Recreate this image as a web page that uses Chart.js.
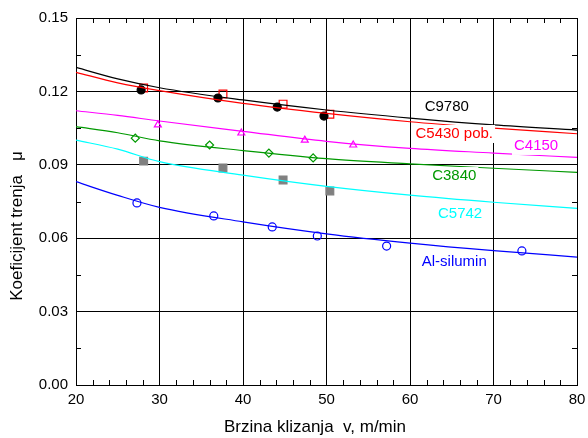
<!DOCTYPE html>
<html>
<head>
<meta charset="utf-8">
<script src="https://cdn.jsdelivr.net/npm/chart.js@4.4.1/dist/chart.umd.min.js"></script>
<style>
  body { margin: 0; background: #fff; }
  canvas { display: block; }
</style>
</head>
<body>
<canvas id="chart" width="588" height="438"></canvas>
<script>
// fitted curves at these speeds
const curveX = [20, 25, 30, 40, 50, 60, 70, 80];
const fitC9780 = [0.1298, 0.1251, 0.1215, 0.1165, 0.1124, 0.1091, 0.1063, 0.1042];
const fitC5430 = [0.1278, 0.1235, 0.1203, 0.1151, 0.1110, 0.1076, 0.1050, 0.1027];
const fitC4150 = [0.1121, 0.1102, 0.1079, 0.1037, 0.0996, 0.0967, 0.0948, 0.0930];
const fitC3840 = [0.1056, 0.1031, 0.0998, 0.0958, 0.0925, 0.0904, 0.0886, 0.0869];
const fitC5742 = [0.1001, 0.0964, 0.0913, 0.0858, 0.0812, 0.0776, 0.0747, 0.0722];
const fitAlSi  = [0.0831, 0.0775, 0.0726, 0.0667, 0.0618, 0.0580, 0.0549, 0.0523];

// measured points
const ptsC9780X = [27.8, 37.0, 44.1, 49.7];
const ptsC9780Y = [0.1206, 0.1173, 0.1136, 0.1099];
const ptsC5430X = [28.1, 37.6, 44.8, 50.4];
const ptsC5430Y = [0.1214, 0.1189, 0.1148, 0.1107];
const ptsC4150X = [29.8, 39.8, 47.4, 53.2];
const ptsC4150Y = [0.1063, 0.1030, 0.1001, 0.0981];
const ptsC3840X = [27.1, 36.0, 43.1, 48.4];
const ptsC3840Y = [0.1009, 0.0981, 0.0948, 0.0928];
const ptsC5742X = [28.1, 37.6, 44.8, 50.4];
const ptsC5742Y = [0.0915, 0.0887, 0.0838, 0.0793];
const ptsAlSiX = [27.3, 36.5, 43.5, 48.9, 57.2, 73.4];
const ptsAlSiY = [0.0744, 0.0691, 0.0646, 0.0609, 0.0568, 0.0548];

const seriesNames = ["C9780", "C5430 pob.", "C4150", "C3840", "C5742", "Al-silumin"];
const labelX = [64.4, 65.3, 75.1, 65.3, 66.0, 65.3];
const labelY = [0.1136, 0.1026, 0.0977, 0.0854, 0.0699, 0.0503];

const FONT = "'Liberation Sans', Arial, sans-serif";
const colors = ["#000000", "#ff0000", "#ff00ff", "#009900", "#00ffff", "#0000ff"];

function xy(xs, ys) {
    return xs.map((x, i) => ({ x: x, y: ys[i] }));
}

function curve(ys, color) {
    return {
        data: xy(curveX, ys),
        showLine: true,
        borderColor: color,
        borderWidth: 1.2,
        pointRadius: 0,
        cubicInterpolationMode: "monotone",
        fill: false,
    };
}

function marks(xs, ys, style, r, border, bg) {
    return {
        data: xy(xs, ys),
        showLine: false,
        pointStyle: style,
        pointRadius: r,
        pointBorderColor: border,
        pointBackgroundColor: bg,
        pointBorderWidth: 1.2,
    };
}

// minor ticks, titles and curve labels
const decor = {
    id: "decor",
    afterDatasetsDraw(chart) {
        const ctx = chart.ctx;
        const xs = chart.scales.x, ys = chart.scales.y;
        const a = chart.chartArea;
        ctx.save();
        ctx.strokeStyle = "#000";
        ctx.lineWidth = 1;
        ctx.beginPath();
        for (let v = 22; v < 80; v += 2) {
            if (v % 10 === 0) continue;
            const px = Math.round(xs.getPixelForValue(v)) + 0.5;
            ctx.moveTo(px, a.bottom); ctx.lineTo(px, a.bottom - 5);
            ctx.moveTo(px, a.top); ctx.lineTo(px, a.top + 5);
        }
        for (let k = 0; k < 5; k++) {
            const py = Math.round(ys.getPixelForValue(0.015 + k * 0.03)) + 0.5;
            ctx.moveTo(a.left, py); ctx.lineTo(a.left + 5, py);
            ctx.moveTo(a.right, py); ctx.lineTo(a.right - 5, py);
        }
        ctx.stroke();

        ctx.font = "15px " + FONT;
        ctx.textAlign = "center";
        ctx.textBaseline = "middle";
        seriesNames.forEach((name, i) => {
            const px = xs.getPixelForValue(labelX[i]);
            const py = ys.getPixelForValue(labelY[i]);
            const w = ctx.measureText(name).width;
            ctx.fillStyle = "#fff";
            ctx.fillRect(px - w / 2 - 2, py - 9, w + 4, 18);
            ctx.fillStyle = colors[i];
            ctx.fillText(name, px, py);
        });

        ctx.fillStyle = "#000";
        ctx.font = "17px " + FONT;
        ctx.fillText("Brzina klizanja  v, m/min", 315, 427);
        ctx.translate(17, 226);
        ctx.rotate(-Math.PI / 2);
        ctx.fillText("Koeficijent trenja   \u03bc", 0, 0);
        ctx.restore();
    },
};

new Chart(document.getElementById("chart"), {
    type: "scatter",
    data: {
        datasets: [
            curve(fitC9780, colors[0]),
            curve(fitC5430, colors[1]),
            curve(fitC4150, colors[2]),
            curve(fitC3840, colors[3]),
            curve(fitC5742, colors[4]),
            curve(fitAlSi, colors[5]),
            marks(ptsC9780X, ptsC9780Y, "circle", 4, "#000", "#000"),
            marks(ptsC5430X, ptsC5430Y, "rect", 5.5, "#ff0000", "rgba(0,0,0,0)"),
            marks(ptsC4150X, ptsC4150Y, "triangle", 4, "#ff00ff", "rgba(0,0,0,0)"),
            marks(ptsC3840X, ptsC3840Y, "rectRot", 4, "#009900", "rgba(0,0,0,0)"),
            marks(ptsC5742X, ptsC5742Y, "rect", 5.5, "#808080", "#808080"),
            marks(ptsAlSiX, ptsAlSiY, "circle", 4, "#0000ff", "rgba(0,0,0,0)"),
        ],
    },
    options: {
        responsive: false,
        animation: false,
        layout: { padding: { top: 18, right: 11, left: 0, bottom: 0 } },
        plugins: {
            legend: { display: false },
            tooltip: { enabled: false },
        },
        scales: {
            x: {
                type: "linear",
                min: 20,
                max: 80,
                ticks: { stepSize: 10, padding: 6, color: "#000", font: { family: FONT, size: 15 } },
                grid: { color: "#000", lineWidth: 1, drawTicks: false },
                border: { color: "#000", width: 1 },
                afterFit: (s) => {
                    s.height = 53;
                    s.paddingLeft = 0;
                    s.paddingRight = 0;
                },
            },
            y: {
                min: 0,
                max: 0.15,
                ticks: {
                    stepSize: 0.03,
                    padding: 8,
                    color: "#000",
                    font: { family: FONT, size: 15 },
                    callback: (v) => v.toFixed(2),
                },
                grid: { color: "#000", lineWidth: 1, drawTicks: false },
                border: { color: "#000", width: 1 },
                afterFit: (s) => {
                    s.width = 76;
                    s.paddingTop = 0;
                    s.paddingBottom = 0;
                },
            },
        },
    },
    plugins: [decor],
});
</script>
</body>
</html>
